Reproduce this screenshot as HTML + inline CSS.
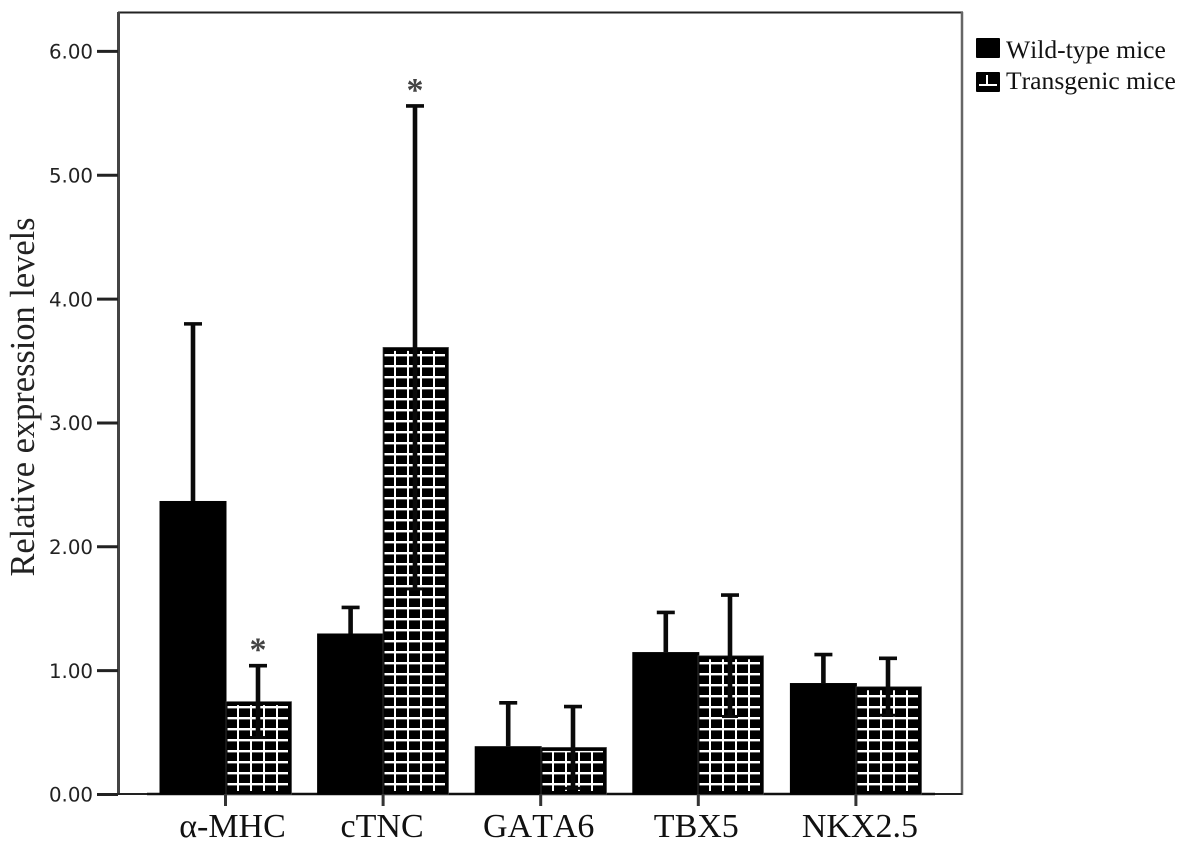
<!DOCTYPE html>
<html>
<head>
<meta charset="utf-8">
<style>
html,body{margin:0;padding:0;background:#fff;width:1189px;height:849px;overflow:hidden}
svg{display:block}
text{font-kerning:none}
</style>
</head>
<body>
<svg id="chart" width="1189" height="849" viewBox="0 0 1189 849" xmlns="http://www.w3.org/2000/svg">
<defs>
<pattern id="grid" patternUnits="userSpaceOnUse" width="13" height="11">
<rect x="0" y="0" width="13" height="11" fill="#000"/>
<rect x="11" y="0" width="2.4" height="11" fill="#fff"/>
<rect x="0" y="0" width="13" height="2.4" fill="#fff"/>
</pattern>
</defs>
<g id="frame">
<rect x="118" y="12" width="844" height="782" fill="#fff" stroke="none"/>
<line x1="118" y1="12.5" x2="963" y2="12.5" stroke="#222" stroke-width="2"/>
<line x1="118.5" y1="12" x2="118.5" y2="795" stroke="#444" stroke-width="3"/>
<line x1="962" y1="12" x2="962" y2="795" stroke="#666" stroke-width="2.5"/>
<line x1="118" y1="794" x2="962" y2="794" stroke="#222" stroke-width="2"/>
</g>
<g id="yaxis"></g>
<g id="bars"></g>
<g id="xaxis"></g>
<text transform="translate(34,397) rotate(-90)" text-anchor="middle" font-family="'Liberation Serif',serif" font-size="34.4" fill="#222">Relative expression levels</text>
<g>
<g>
<rect x="976" y="38" width="24" height="20" rx="1" fill="#000"/>
<text x="1006" y="58" font-family="'Liberation Serif',serif" font-size="25.6" fill="#111">Wild-type mice</text>
</g>
<g>
<rect x="976" y="72" width="24" height="20" rx="1" fill="#000"/>
<rect x="979" y="84" width="18" height="2" fill="#fff"/>
<rect x="986" y="75" width="2" height="10" fill="#fff"/>
<text x="1006" y="89" font-family="'Liberation Serif',serif" font-size="25.6" fill="#111">Transgenic mice</text>
</g>
</g>
</svg>
<script>
var categories = ['α-MHC', 'cTNC', 'GATA6', 'TBX5', 'NKX2.5'];
var wildTypeValues = [2.37, 1.30, 0.39, 1.15, 0.90];
var wildTypeErrors = [1.43, 0.21, 0.35, 0.32, 0.23];
var transgenicValues = [0.75, 3.61, 0.38, 1.12, 0.87];
var transgenicErrors = [0.29, 1.95, 0.33, 0.49, 0.23];
var significantTransgenic = [true, true, false, false, false];
var yTicks = [0, 1, 2, 3, 4, 5, 6];

var NS = 'http://www.w3.org/2000/svg';
function yScale(v) { return 794.5 - v * 123.85; }
function xScale(i) { return 225.5 + i * 157.6; }
function labelX(i) { return xScale(i) + ([7, -1, -2, -2, 4][i] || 0); }
var BAR_W_WT = 67, BAR_W_TG = 65.5;

function mk(parent, tag, attrs, text) {
  var el = document.createElementNS(NS, tag);
  for (var k in attrs) el.setAttribute(k, attrs[k]);
  if (text !== undefined) el.textContent = text;
  parent.appendChild(el);
  return el;
}

var yaxis = document.getElementById('yaxis');
yTicks.forEach(function (t) {
  var y = yScale(t);
  var tick = mk(yaxis, 'line', { x1: 97, x2: 118, y1: y, y2: y, stroke: '#222', 'stroke-width': 3 });
  
  
  var lab = mk(yaxis, 'text', { x: 93, y: y + 7.2, 'text-anchor': 'end', 'font-family': "'DejaVu Sans',sans-serif", 'font-size': 19.8, fill: '#222' }, t.toFixed(2));
  
  
});

function errorBar(parent, cx, val, err, showLower) {
  var hi = yScale(val + err), v = yScale(val), lo = yScale(val - err);
  var up = mk(parent, 'line', { x1: cx, x2: cx, y1: hi, y2: showLower ? lo : v, stroke: '#0a0a0a', 'stroke-width': 4.6 });
  
  
  var cap = mk(parent, 'line', { x1: cx - 9, x2: cx + 9, y1: hi, y2: hi, stroke: '#0a0a0a', 'stroke-width': 3.6 });
  
  
  if (showLower) {
    var low = mk(parent, 'line', { x1: cx - 8, x2: cx + 8, y1: lo, y2: lo, stroke: '#0a0a0a', 'stroke-width': 3 });
    
    
  }
}

var bars = document.getElementById('bars');
var baseline = mk(bars, 'line', { x1: 147, x2: 935, y1: 794, y2: 794, stroke: '#111', 'stroke-width': 2.6 });



categories.forEach(function (c, i) {
  var cx = xScale(i);
  var y0 = yScale(0);

  var wx = cx - BAR_W_WT + 1;
  var wy = yScale(wildTypeValues[i]);
  var wb = mk(bars, 'rect', { x: wx, y: wy, width: BAR_W_WT, height: y0 - wy, fill: '#000' });
  
  
  errorBar(bars, wx + BAR_W_WT / 2, wildTypeValues[i], wildTypeErrors[i], false);

  var tx = Math.round(cx);
  var ty = yScale(transgenicValues[i]);
  var tb = mk(bars, 'rect', { x: tx, y: ty, width: BAR_W_TG, height: y0 - ty, fill: '#000', stroke: '#444', 'stroke-width': 0.7 });
  
  
  var h = y0 - ty;
  var g = mk(bars, 'g', { transform: 'translate(' + tx + ',' + (Math.round(y0) - 11 * Math.ceil(h / 11) - 1) + ')' });
  var top = 11 * Math.ceil(h / 11) - h + 4;
  var fillR = mk(g, 'rect', { x: 1.5, y: top, width: BAR_W_TG - 5, height: Math.max(0, h - 7), fill: 'url(#grid)' });
  
  
  errorBar(bars, tx + 32, transgenicValues[i], transgenicErrors[i], true);

  if (significantTransgenic[i]) {
    var s = mk(bars, 'text', { x: tx + 32, y: yScale(transgenicValues[i] + transgenicErrors[i]) - 5, 'text-anchor': 'middle', 'font-family': "'Liberation Serif',serif", 'font-weight': 'bold', 'font-size': 34, fill: '#444' }, '*');
    
    
  }
});

var xaxis = document.getElementById('xaxis');
categories.forEach(function (c, i) {
  var cx = xScale(i);
  var t = mk(xaxis, 'line', { x1: cx, x2: cx, y1: 794, y2: 806, stroke: '#333', 'stroke-width': 3 });
  
  
  var l = mk(xaxis, 'text', { x: labelX(i), y: 837, 'text-anchor': 'middle', 'font-family': "'Liberation Serif',serif", 'font-size': 34, fill: '#111' }, c);
  
  
});
</script>
</body>
</html>
